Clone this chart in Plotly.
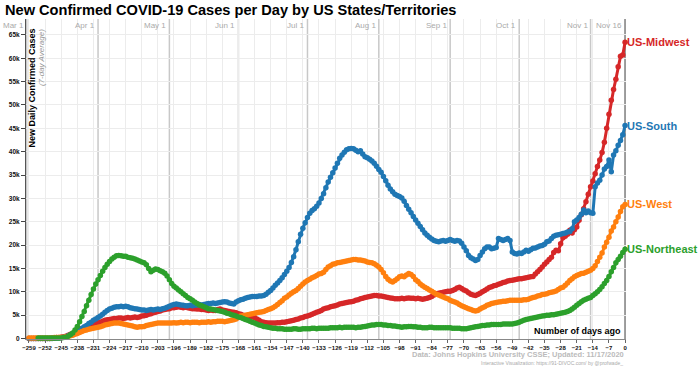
import plotly.graph_objects as go

# ---------------- data (thousands of cases, 7-day average) ----------------
days = list(range(-259, 1))           # Number of days ago (0 = Nov 16, 2020)
northeast_days = list(range(-255, 1))

midwest_k = [
    0.0, 0.0, 0.0, 0.0, 0.0, 0.0, 0.0, 0.0, 0.0, 0.0,
    0.1, 0.1, 0.2, 0.2, 0.3, 0.4, 0.5, 0.7, 0.9, 1.1,
    1.3, 1.5, 1.7, 1.9, 2.1, 2.3, 2.5, 2.7, 2.9, 3.1,
    3.3, 3.5, 3.7, 3.9, 4.0, 4.1, 4.2, 4.3, 4.3, 4.4,
    4.4, 4.3, 4.4, 4.5, 4.4, 4.5, 4.6, 4.5, 4.6, 4.8,
    4.9, 5.0, 5.2, 5.3, 5.5, 5.6, 5.8, 5.9, 6.1, 6.2,
    6.3, 6.4, 6.6, 6.6, 6.7, 6.8, 6.7, 6.6, 6.7, 6.6,
    6.5, 6.4, 6.4, 6.3, 6.3, 6.2, 6.2, 6.1, 6.0, 6.1,
    6.0, 6.0, 6.2, 6.3, 6.1, 6.0, 5.9, 5.8, 5.7, 5.6,
    5.5, 5.3, 5.2, 5.0, 4.9, 4.8, 4.7, 4.6, 4.5, 4.2,
    3.9, 3.6, 3.5, 3.4, 3.3, 3.3, 3.3, 3.3, 3.4, 3.4,
    3.5, 3.5, 3.6, 3.7, 3.8, 3.9, 4.1, 4.2, 4.4, 4.5,
    4.7, 4.8, 5.0, 5.2, 5.4, 5.6, 5.8, 6.0, 6.3, 6.5,
    6.6, 6.8, 6.9, 7.0, 7.2, 7.4, 7.5, 7.6, 7.7, 7.8,
    7.9, 8.0, 8.2, 8.3, 8.5, 8.6, 8.8, 8.9, 9.0, 9.1,
    9.2, 9.2, 9.1, 9.1, 9.0, 8.9, 8.8, 8.7, 8.6, 8.5,
    8.5, 8.5, 8.6, 8.5, 8.6, 8.7, 8.6, 8.6, 8.5, 8.6,
    8.5, 8.4, 8.5, 8.6, 8.8, 9.0, 9.3, 9.6, 9.7, 9.8,
    9.9, 10.0, 10.1, 10.1, 10.3, 10.5, 10.8, 11.0, 10.7, 10.4,
    10.2, 9.8, 9.5, 9.3, 9.2, 9.4, 9.7, 10.0, 10.3, 10.6,
    10.9, 11.1, 11.3, 11.4, 11.6, 11.8, 12.0, 12.1, 12.3, 12.4,
    12.5, 12.6, 12.7, 12.8, 12.8, 12.9, 13.0, 13.1, 13.2, 13.3,
    13.8, 14.3, 14.8, 15.3, 15.9, 16.4, 16.9, 17.4, 18.4, 18.9,
    18.8, 20.3, 21.6, 21.9, 22.3, 23.2, 22.6, 23.3, 23.9, 25.3,
    26.5, 27.8, 29.3, 30.9, 32.5, 33.7, 35.3, 36.8, 38.2, 39.8,
    42.0, 45.0, 48.0, 51.0, 53.3, 55.5, 58.2, 60.4, 60.7, 63.4,
]

south_k = [
    0.0, 0.0, 0.0, 0.0, 0.0, 0.0, 0.0, 0.0, 0.0, 0.0,
    0.0, 0.1, 0.1, 0.1, 0.2, 0.3, 0.4, 0.6, 0.8, 1.0,
    1.3, 1.6, 1.9, 2.2, 2.5, 2.8, 3.2, 3.5, 3.9, 4.2,
    4.5, 4.8, 5.2, 5.6, 6.0, 6.3, 6.5, 6.7, 6.8, 6.8,
    6.9, 6.8, 6.9, 6.8, 6.6, 6.5, 6.4, 6.3, 6.2, 6.1,
    6.1, 6.0, 6.1, 6.2, 6.1, 6.2, 6.3, 6.2, 6.4, 6.5,
    6.7, 6.9, 7.1, 7.3, 7.4, 7.3, 7.2, 7.1, 7.0, 7.0,
    7.1, 7.0, 7.1, 7.2, 7.3, 7.2, 7.3, 7.4, 7.5, 7.5,
    7.6, 7.5, 7.6, 7.7, 7.8, 7.9, 7.8, 7.6, 7.5, 7.4,
    7.8, 8.1, 8.3, 8.4, 8.6, 8.8, 8.9, 9.0, 9.0, 9.0,
    9.1, 9.1, 9.2, 9.5, 9.9, 10.3, 10.8, 11.4, 11.9, 12.4,
    13.0, 13.7, 14.4, 15.2, 16.3, 17.5, 19.0, 20.7, 22.3, 23.6,
    24.8, 25.9, 26.8, 27.4, 27.8, 28.3, 29.0, 30.0, 31.0, 32.3,
    33.5, 34.5, 35.5, 36.5, 37.5, 38.6, 39.3, 39.9, 40.4, 40.6,
    40.7, 40.6, 40.3, 40.0, 40.2, 39.5, 38.9, 38.7, 38.4, 38.0,
    37.5, 36.9, 36.2, 35.6, 34.7, 33.8, 32.8, 32.0, 31.4, 30.9,
    30.6, 30.4, 30.1, 29.4, 28.5, 27.7, 26.9, 26.1, 25.4, 24.7,
    24.0, 23.3, 22.6, 22.1, 21.7, 21.3, 21.0, 20.8, 20.7, 20.9,
    21.0, 20.8, 21.0, 21.2, 21.0, 20.8, 21.0, 20.9, 20.4, 19.6,
    18.8, 17.8, 17.3, 17.0, 16.7, 16.9, 17.8, 18.5, 19.2, 19.6,
    19.6, 19.2, 19.3, 19.5, 21.4, 21.2, 21.0, 21.2, 21.4, 21.0,
    18.5, 18.2, 18.1, 18.3, 18.2, 18.5, 18.9, 18.7, 19.0, 19.3,
    19.4, 19.6, 19.8, 19.9, 20.2, 20.7, 20.9, 21.4, 21.9, 22.1,
    22.2, 22.3, 22.5, 22.6, 22.8, 22.9, 23.5, 25.0, 25.4, 25.9,
    26.6, 27.5, 26.9, 27.3, 26.9, 26.8, 32.5, 33.3, 33.9, 35.0,
    36.3, 36.8, 38.2, 35.7, 39.3, 40.2, 41.4, 42.4, 43.6, 45.6,
]

west_k = [
    0.1, 0.1, 0.1, 0.1, 0.1, 0.1, 0.1, 0.1, 0.1, 0.1,
    0.1, 0.2, 0.2, 0.2, 0.3, 0.3, 0.4, 0.5, 0.6, 0.7,
    0.9, 1.1, 1.3, 1.5, 1.7, 1.8, 2.0, 2.1, 2.2, 2.3,
    2.4, 2.5, 2.7, 2.9, 3.0, 3.1, 3.2, 3.3, 3.3, 3.3,
    3.2, 3.1, 3.0, 2.9, 2.8, 2.7, 2.5, 2.4, 2.5, 2.5,
    2.6, 2.8, 2.9, 3.0, 3.1, 3.2, 3.3, 3.3, 3.3, 3.3,
    3.3, 3.3, 3.3, 3.4, 3.3, 3.4, 3.5, 3.4, 3.5, 3.5,
    3.4, 3.5, 3.5, 3.5, 3.4, 3.5, 3.5, 3.5, 3.6, 3.5,
    3.6, 3.6, 3.7, 3.7, 3.7, 3.6, 3.7, 3.8, 3.9, 4.0,
    4.2, 4.5, 4.8, 4.9, 5.0, 5.1, 5.2, 5.3, 5.4, 5.5,
    5.6, 5.7, 5.8, 6.0, 6.2, 6.4, 6.6, 6.9, 7.3, 7.7,
    8.1, 8.6, 8.9, 9.3, 9.7, 10.0, 10.3, 10.7, 11.2, 11.7,
    12.1, 12.4, 12.7, 13.0, 13.2, 13.5, 13.8, 13.9, 14.2, 14.8,
    15.3, 15.6, 15.9, 16.0, 16.2, 16.3, 16.4, 16.5, 16.6, 16.7,
    16.8, 16.9, 16.9, 16.8, 16.8, 16.7, 16.6, 16.4, 16.3, 16.2,
    16.0, 15.7, 15.3, 14.8, 14.1, 13.3, 12.7, 12.3, 12.1, 12.4,
    12.8, 13.2, 13.4, 13.2, 13.6, 13.9, 13.7, 13.3, 12.6, 12.2,
    11.7, 11.3, 11.0, 10.7, 10.4, 10.1, 9.8, 9.5, 9.3, 9.1,
    8.9, 8.7, 8.5, 8.2, 8.0, 7.8, 7.6, 7.3, 7.0, 6.8,
    6.6, 6.4, 6.2, 6.0, 5.9, 6.0, 6.3, 6.6, 6.8, 7.1,
    7.3, 7.5, 7.6, 7.7, 7.8, 7.9, 8.0, 8.0, 8.1, 8.2,
    8.2, 8.2, 8.2, 8.2, 8.2, 8.3, 8.3, 8.4, 8.6, 8.8,
    8.9, 9.1, 9.2, 9.4, 9.5, 9.6, 9.8, 9.9, 10.0, 10.2,
    10.5, 10.8, 11.0, 11.4, 11.9, 12.4, 12.8, 13.2, 13.5, 13.7,
    13.9, 14.0, 14.2, 14.4, 14.6, 15.0, 15.6, 16.5, 17.4, 18.3,
    19.6, 20.6, 21.7, 23.0, 23.9, 25.0, 26.0, 27.2, 28.2, 28.7,
]

northeast_k = [
    0.1, 0.1, 0.1, 0.1, 0.1, 0.1,
    0.1, 0.1, 0.1, 0.1, 0.1, 0.2, 0.3, 0.5, 0.8, 1.2,
    1.8, 2.6, 3.6, 4.7, 5.8, 7.0, 8.2, 9.4, 10.6, 11.7,
    12.6, 13.5, 14.4, 15.2, 15.9, 16.5, 17.0, 17.4, 17.7, 17.8,
    17.7, 17.6, 17.6, 17.4, 17.3, 17.2, 17.0, 16.8, 16.6, 16.4,
    16.2, 15.8, 15.0, 14.3, 14.6, 14.9, 14.8, 14.5, 14.3, 14.0,
    13.4, 12.6, 11.8, 11.2, 10.8, 10.4, 10.0, 9.6, 9.2, 8.8,
    8.5, 8.2, 7.8, 7.5, 7.2, 7.0, 6.8, 6.6, 6.4, 6.3,
    6.2, 6.1, 6.0, 5.9, 5.8, 5.6, 5.4, 5.3, 5.1, 5.0,
    4.8, 4.6, 4.5, 4.3, 4.1, 3.9, 3.7, 3.5, 3.3, 3.1,
    2.9, 2.8, 2.6, 2.5, 2.4, 2.3, 2.2, 2.2, 2.1, 2.1,
    2.1, 2.0, 2.0, 2.0, 2.0, 2.1, 2.1, 2.0, 2.0, 2.1,
    2.1, 2.1, 2.1, 2.2, 2.2, 2.1, 2.2, 2.2, 2.2, 2.2,
    2.2, 2.3, 2.3, 2.3, 2.3, 2.4, 2.3, 2.4, 2.4, 2.4,
    2.4, 2.4, 2.3, 2.4, 2.4, 2.5, 2.6, 2.7, 2.8, 2.9,
    2.9, 3.0, 3.0, 3.0, 2.9, 2.9, 2.8, 2.8, 2.7, 2.7,
    2.6, 2.5, 2.4, 2.5, 2.5, 2.6, 2.6, 2.5, 2.5, 2.4,
    2.4, 2.3, 2.3, 2.3, 2.4, 2.4, 2.3, 2.3, 2.3, 2.3,
    2.3, 2.3, 2.3, 2.3, 2.2, 2.2, 2.2, 2.2, 2.1, 2.1,
    2.1, 2.2, 2.3, 2.4, 2.5, 2.6, 2.7, 2.8, 2.8, 2.9,
    2.9, 3.0, 3.0, 3.0, 3.0, 3.0, 3.1, 3.1, 3.1, 3.1,
    3.1, 3.2, 3.3, 3.5, 3.7, 3.9, 4.1, 4.2, 4.3, 4.4,
    4.5, 4.6, 4.7, 4.8, 4.9, 5.0, 5.0, 5.1, 5.1, 5.2,
    5.3, 5.4, 5.5, 5.6, 5.8, 6.0, 6.3, 6.7, 7.1, 7.5,
    7.9, 8.2, 8.4, 8.6, 8.8, 9.2, 9.6, 10.0, 10.5, 11.1,
    11.8, 12.4, 13.3, 14.3, 15.2, 16.2, 16.9, 17.6, 18.4, 19.1,
]

series_names = ["US-Midwest", "US-South", "US-West", "US-Northeast"]
series_colors = ["#d62728", "#1f77b4", "#ff7f0e", "#2ca02c"]

y_tickvals = [0, 5000, 10000, 15000, 20000, 25000, 30000, 35000, 40000,
              45000, 50000, 55000, 60000, 65000]
y_ticktext = ["0", "5k", "10k", "15k", "20k", "25k", "30k", "35k", "40k",
              "45k", "50k", "55k", "60k", "65k"]
x_tickvals = list(range(-259, 1, 7))

month_labels = ["Mar 1", "Apr 1", "May 1", "Jun 1", "Jul 1", "Aug 1",
                "Sep 1", "Oct 1", "Nov 1", "Nov 16"]
month_days = [-260, -229, -198, -168, -138, -107, -76, -46, -15, 0]

FONT = "Liberation Sans, Arial, sans-serif"

# ---------------- figure ----------------
fig = go.Figure()

all_x = [days, days, days, northeast_days]
all_y = [midwest_k, south_k, west_k, northeast_k]

for name, color, xs, ys in zip(series_names, series_colors, all_x, all_y):
    fig.add_trace(go.Scatter(
        x=xs, y=[v * 1000 for v in ys], name=name,
        mode="lines+markers",
        line=dict(color=color, width=3),
        marker=dict(color=color, size=5.5),
        cliponaxis=False, showlegend=False,
    ))
    fig.add_annotation(
        x=xs[-1], y=ys[-1] * 1000, xref="x", yref="y",
        text=name, showarrow=False, xanchor="left", yanchor="middle",
        xshift=1, borderpad=0,
        font=dict(family=FONT, size=11, color=color, weight="bold"),
    )

# month reference lines and labels
shapes = []
for lab, d in zip(month_labels, month_days):
    last = (d == month_days[-1])
    shapes.append(dict(type="line", xref="x", yref="paper", x0=d, x1=d,
                       y0=0, y1=1, layer="below",
                       line=dict(color="#9a9a9a" if last else "#c8c8c8",
                                 width=2 if last else 1.5)))
    fig.add_annotation(x=d, y=0.981, xref="x", yref="paper", text=lab,
                       showarrow=False, xanchor="right", yanchor="middle",
                       xshift=-2, borderpad=0,
                       font=dict(family=FONT, size=8, color="#aaaaaa"))
fig.update_layout(shapes=shapes)

fig.update_layout(
    title=dict(text="New Confirmed COVID-19 Cases per Day by US States/Territories",
               x=5 / 700, xref="container", xanchor="left",
               y=1 - 9.5 / 366, yref="container", yanchor="middle",
               automargin=False,
               font=dict(family=FONT, size=14.6, color="#000", weight="bold")),
)

# y-axis title (inside plot)
fig.add_annotation(x=0.010, y=0.972, xref="paper", yref="paper",
                   text="New Daily Confirmed Cases", textangle=-90,
                   showarrow=False, xanchor="center", yanchor="top",
                   borderpad=0,
                   font=dict(family=FONT, size=9, color="#000", weight="bold"))
fig.add_annotation(x=0.026, y=0.972, xref="paper", yref="paper",
                   text="(7-day Average)", textangle=-90,
                   showarrow=False, xanchor="center", yanchor="top",
                   borderpad=0,
                   font=dict(family=FONT, size=8, color="#999999", style="italic"))

# x-axis title
fig.add_annotation(x=0.993, y=0.025, xref="paper", yref="paper",
                   text="Number of days ago", showarrow=False,
                   xanchor="right", yanchor="middle", borderpad=0,
                   font=dict(family=FONT, size=9, color="#000", weight="bold"))

# footer
fig.add_annotation(x=0.998, y=-0.048, xref="paper", yref="paper",
                   text="Data: Johns Hopkins University CSSE; Updated: 11/17/2020",
                   showarrow=False, xanchor="right", yanchor="middle", borderpad=0,
                   font=dict(family=FONT, size=7.5, color="#bbbbbb", weight="bold"))
fig.add_annotation(x=0.996, y=-0.074, xref="paper", yref="paper",
                   text="Interactive Visualization: https://91-DIVOC.com/ by @profwade_",
                   showarrow=False, xanchor="right", yanchor="middle", borderpad=0,
                   font=dict(family=FONT, size=5, color="#aaaaaa"))

fig.update_xaxes(
    range=[-260.3, 0.4], tickvals=x_tickvals, tickangle=0, automargin=False,
    tickfont=dict(family=FONT, size=6, color="#111", weight="bold"),
    ticks="outside", ticklen=3, tickcolor="#666",
    showgrid=True, gridcolor="#ececec", gridwidth=1,
    showline=True, linecolor="#888", linewidth=1,
    zeroline=False, fixedrange=True,
)
fig.update_yaxes(
    range=[-100, 68400], tickvals=y_tickvals, ticktext=y_ticktext, automargin=False,
    tickfont=dict(family=FONT, size=6.5, color="#111", weight="bold"),
    ticks="outside", ticklen=4, tickcolor="#444",
    showgrid=True, gridcolor="#ececec", gridwidth=1,
    showline=True, linecolor="#555", linewidth=1,
    zeroline=False, fixedrange=True,
)

fig.update_layout(
    width=700, height=366, autosize=False,
    margin=dict(l=26, r=74, t=19, b=27, pad=0, autoexpand=False),
    paper_bgcolor="white", plot_bgcolor="white",
    font=dict(family=FONT),
    showlegend=False,
)

fig.write_html(
    "out.html",
    config={"displayModeBar": False, "staticPlot": True},
    post_script="document.body.style.margin='0';document.body.style.padding='0';"
                "document.body.style.overflow='hidden';",
)
